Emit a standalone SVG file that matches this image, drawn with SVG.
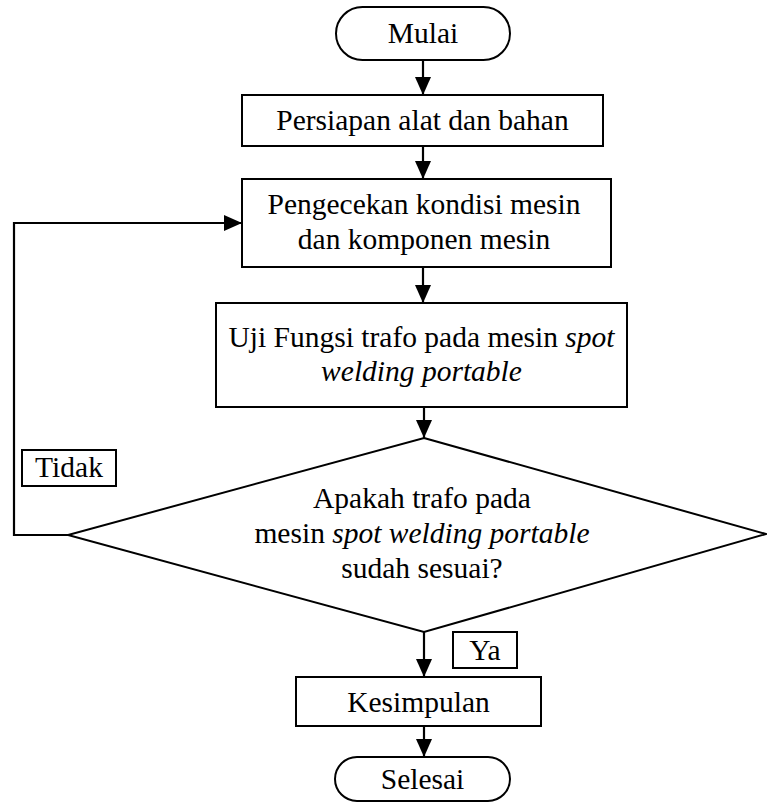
<svg xmlns="http://www.w3.org/2000/svg" width="767" height="803" viewBox="0 0 767 803">
<style>
.s{fill:#fff;stroke:#000;stroke-width:2}
.c{fill:none;stroke:#000;stroke-width:2.2}
.t{font-family:'Liberation Serif','Times New Roman','DejaVu Serif',serif;font-size:29.5px;fill:#000;text-anchor:middle}
.i{font-style:italic}
</style>
<defs>
<marker id="a" markerWidth="18" markerHeight="16" refX="18" refY="8" viewBox="0 0 18 16" orient="auto" markerUnits="userSpaceOnUse">
<path d="M0,0 L18,8 L0,16 Z" fill="#000"/>
</marker>
</defs>
<g id="connectors">
<line class="c" x1="423" y1="60" x2="423" y2="95" marker-end="url(#a)"/>
<line class="c" x1="423" y1="146" x2="423" y2="179" marker-end="url(#a)"/>
<line class="c" x1="423" y1="267" x2="423" y2="303" marker-end="url(#a)"/>
<line class="c" x1="424" y1="407" x2="424" y2="438" marker-end="url(#a)"/>
<line class="c" x1="424" y1="632" x2="424" y2="677" marker-end="url(#a)"/>
<line class="c" x1="424" y1="726" x2="424" y2="757" marker-end="url(#a)"/>
<polyline class="c" points="68,535 14,535 14,223 242,223" marker-end="url(#a)"/>
</g>
<g class="t">
<g id="mulai">
<rect class="s" x="336" y="7" width="174" height="53" rx="26.5"/>
<text x="423" y="43">Mulai</text>
</g>
<g id="persiapan">
<rect class="s" x="242" y="95" width="361" height="51"/>
<text x="422.5" y="130">Persiapan alat dan bahan</text>
</g>
<g id="pengecekan">
<rect class="s" x="242" y="179" width="369" height="88"/>
<text x="424" y="214">Pengecekan kondisi mesin</text>
<text x="424" y="249">dan komponen mesin</text>
</g>
<g id="uji">
<rect class="s" x="216" y="303" width="411" height="104"/>
<text x="421.5" y="347">Uji Fungsi trafo pada mesin <tspan class="i">spot</tspan></text>
<text x="421.5" y="381" class="i">welding portable</text>
</g>
<g id="keputusan">
<polygon class="s" points="424,438 766,534 424,632 68,535"/>
<text x="422" y="508">Apakah trafo pada</text>
<text x="422" y="543">mesin <tspan class="i">spot welding portable</tspan></text>
<text x="422" y="578">sudah sesuai?</text>
</g>
<g id="tidak">
<rect class="s" x="22" y="450" width="94" height="36"/>
<text x="69" y="477">Tidak</text>
</g>
<g id="ya">
<rect class="s" x="453" y="632" width="64" height="36"/>
<text x="485" y="660">Ya</text>
</g>
<g id="kesimpulan">
<rect class="s" x="296" y="677" width="245" height="49"/>
<text x="418.5" y="712">Kesimpulan</text>
</g>
<g id="selesai">
<rect class="s" x="335" y="757" width="175" height="44" rx="22"/>
<text x="422.5" y="789">Selesai</text>
</g>
</g>
</svg>
